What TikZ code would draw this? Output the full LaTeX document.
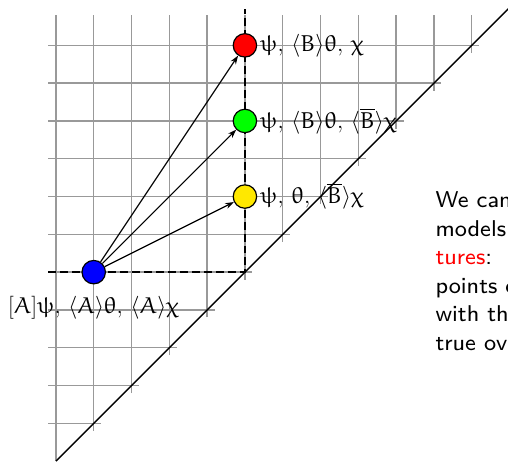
\documentclass[tikz,border=0pt]{standalone}
\usepackage{amsmath,amssymb}
\usetikzlibrary{positioning,arrows.meta}
% upright Euler letters for the labels
\DeclareSymbolFont{eulerlt}{U}{eur}{m}{n}
\DeclareMathSymbol{\ppsi}{\mathord}{eulerlt}{"20}
\DeclareMathSymbol{\ttheta}{\mathord}{eulerlt}{"12}
\DeclareMathSymbol{\cchi}{\mathord}{eulerlt}{"1F}
\DeclareMathAlphabet{\mathe}{U}{eur}{m}{n}
\definecolor{ptyellow}{RGB}{255,232,0}

\begin{document}
\begin{tikzpicture}[x=1cm, y=1cm,
  pt/.style={circle, draw, line width=0.9pt, minimum size=0.62cm, inner sep=0pt},
  lbl/.style={inner sep=2pt, font=\fontsize{17.3}{20}\selectfont},
  gridline/.style={black!40, line width=1pt}]
  \useasboundingbox (-1.48,0) rectangle (11.96,12.2);
  % grid above the diagonal
  \draw[gridline] (0,0) -- (0,11.8);
  \foreach \i in {1,...,11} {
    \draw[gridline] (-0.2,\i) -- (\i+0.2,\i);
    \draw[gridline] (\i,\i-0.2) -- (\i,11.8);
  }
  \draw[line width=1.1pt] (0,0) -- (12.3,12.3);
  \draw[line width=1.1pt, dash pattern=on 6pt off 3pt] (-0.2,5) -- (5,5) -- (5,11.95);
  % points
  \node[pt, fill=blue] (p0) at (1,5) {};
  \node[pt, fill=ptyellow] (p1) at (5,7) {};
  \node[pt, fill=green] (p2) at (5,9) {};
  \node[pt, fill=red] (p3) at (5,11) {};
  \foreach \p in {p1,p2,p3}
    \draw[-{Stealth[length=6.5pt, width=4.5pt]}, line width=0.9pt] (p0) -- (\p);
  % labels
  \node[lbl, below=7pt of p0] (l0) {$[\mathe{A}]\ppsi,\, \langle\mathe{A}\rangle\ttheta,\, \langle\mathe{A}\rangle\cchi$};
  \node[lbl, right=0pt of p1] (l1) {$\ppsi,\, \ttheta,\, \langle\overline{\mathe{B}}\rangle\cchi$};
  \node[lbl, right=0pt of p2] (l2) {$\ppsi,\, \langle\mathe{B}\rangle\ttheta,\, \langle\overline{\mathe{B}}\rangle\cchi$};
  \node[lbl, right=0pt of p3] (l3) {$\ppsi,\, \langle\mathe{B}\rangle\ttheta,\, \cchi$};
  % text beside the picture, cut by the page edge
  \coordinate (tx) at (10.03,2.93);
  \node[anchor=base west, align=left, inner sep=0pt, transform shape, scale=2.15,
    font=\sffamily\fontsize{8}{10}\selectfont] (txt) at (tx)
    {We can\\models\\\textcolor{red}{tures}:\\points o\\with th\\true ov};
\end{tikzpicture}
\end{document}
